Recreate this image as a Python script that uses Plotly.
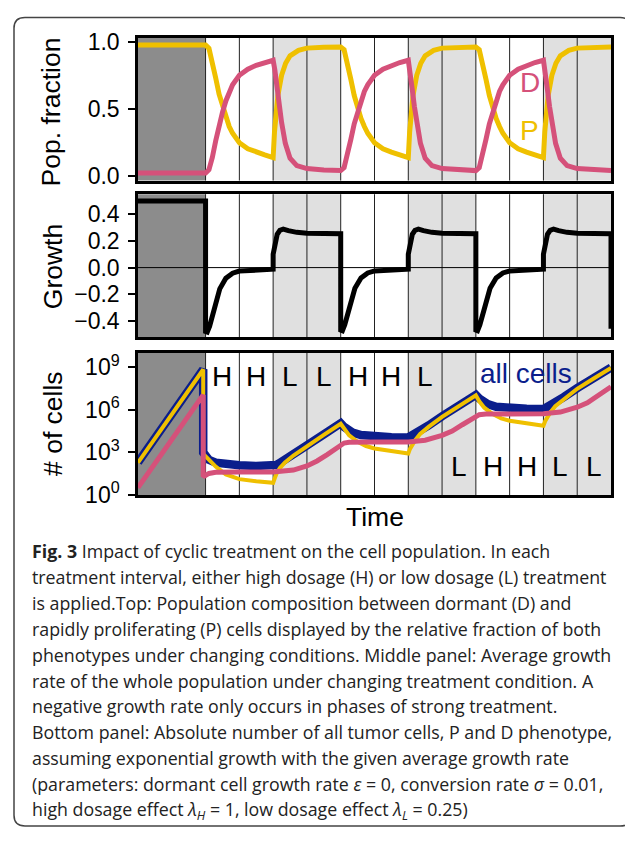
import plotly.graph_objects as go

# page body adds an 8px margin, so the figure is drawn 8px in from the corner
OFF = 8
W, H = 633 - OFF, 841 - OFF
YELLOW = "#EFC000"
PINK = "#D5517A"
NAVY = "#0B1E8C"
DARK = "#8C8C8C"
LIGHT = "#E0E0E0"
FONT = "Liberation Sans, Arial, sans-serif"
CAP_FONT = "Open Sans, sans-serif"

# ---------------- data ----------------
# time in treatment-interval units: 0-2 untreated, then 12 treatment intervals
treatment = ["H", "H", "L", "L", "H", "H", "L", "L", "H", "H", "L", "L"]
label_row = ["top"] * 7 + ["bottom"] * 5

# top panel: population fractions
P_t = [0.0, 2.0,
       2.1, 2.2, 2.3, 2.4, 2.5, 2.6, 2.7, 2.8, 3.0, 3.25, 3.5, 3.75, 4.0,
       4.04, 4.14, 4.25, 4.37, 4.5, 4.75, 5.0, 5.5, 6.0,
       6.1, 6.2, 6.3, 6.4, 6.5, 6.6, 6.7, 6.8, 7.0, 7.25, 7.5, 7.75, 8.0,
       8.04, 8.14, 8.25, 8.37, 8.5, 8.75, 9.0, 9.5, 10.0,
       10.1, 10.2, 10.3, 10.4, 10.5, 10.6, 10.7, 10.8, 11.0, 11.25, 11.5, 11.75, 12.0,
       12.04, 12.14, 12.25, 12.37, 12.5, 12.75, 13.0, 13.5, 14.0]
P_frac = [0.975, 0.975,
          0.95, 0.85, 0.73, 0.61, 0.52, 0.43, 0.37, 0.32, 0.25, 0.205, 0.18, 0.16, 0.14,
          0.33, 0.60, 0.75, 0.84, 0.895, 0.935, 0.952, 0.958, 0.96,
          0.94, 0.84, 0.72, 0.60, 0.51, 0.43, 0.37, 0.32, 0.25, 0.205, 0.18, 0.16, 0.14,
          0.33, 0.60, 0.75, 0.84, 0.895, 0.935, 0.952, 0.958, 0.96,
          0.94, 0.84, 0.72, 0.60, 0.51, 0.43, 0.37, 0.32, 0.25, 0.205, 0.18, 0.16, 0.14,
          0.33, 0.60, 0.75, 0.84, 0.895, 0.935, 0.952, 0.958, 0.96]

D_t = [0.0, 2.0,
       2.1, 2.2, 2.3, 2.4, 2.5, 2.6, 2.7, 2.8, 3.0, 3.25, 3.5, 3.75, 4.0,
       4.05, 4.12, 4.18, 4.25, 4.36, 4.5, 4.7, 5.0, 5.5, 6.0,
       6.1, 6.2, 6.3, 6.4, 6.5, 6.6, 6.7, 6.8, 7.0, 7.25, 7.5, 7.75, 8.0,
       8.05, 8.12, 8.18, 8.25, 8.36, 8.5, 8.7, 9.0, 9.5, 10.0,
       10.1, 10.2, 10.3, 10.4, 10.5, 10.6, 10.7, 10.8, 11.0, 11.25, 11.5, 11.75, 12.0,
       12.05, 12.12, 12.18, 12.25, 12.36, 12.5, 12.7, 13.0, 13.5, 14.0]
D_frac = [0.025, 0.025,
          0.05, 0.14, 0.265, 0.385, 0.475, 0.56, 0.625, 0.68, 0.75, 0.795, 0.825, 0.845, 0.862,
          0.79, 0.64, 0.52, 0.40, 0.245, 0.135, 0.08, 0.058, 0.047, 0.043,
          0.065, 0.155, 0.275, 0.39, 0.48, 0.565, 0.63, 0.68, 0.75, 0.795, 0.825, 0.845, 0.862,
          0.79, 0.64, 0.52, 0.40, 0.245, 0.135, 0.08, 0.058, 0.047, 0.043,
          0.065, 0.155, 0.275, 0.39, 0.48, 0.565, 0.63, 0.68, 0.75, 0.795, 0.825, 0.845, 0.862,
          0.79, 0.64, 0.52, 0.40, 0.245, 0.135, 0.08, 0.058, 0.047, 0.043]

# middle panel: average growth rate
G_t = [0.0, 2.0, 2.0, 2.05, 2.12, 2.2, 2.3, 2.42, 2.6, 2.8, 3.0, 3.5, 4.0,
       4.0, 4.05, 4.12, 4.2, 4.3, 4.45, 4.7, 5.0, 5.5, 6.0,
       6.0, 6.05, 6.12, 6.2, 6.3, 6.42, 6.6, 6.8, 7.0, 7.5, 8.0,
       8.0, 8.05, 8.12, 8.2, 8.3, 8.45, 8.7, 9.0, 9.5, 10.0,
       10.0, 10.05, 10.12, 10.2, 10.3, 10.42, 10.6, 10.8, 11.0, 11.5, 12.0,
       12.0, 12.05, 12.12, 12.2, 12.3, 12.45, 12.7, 13.0, 13.5, 14.0, 14.0]
growth = [0.5, 0.5, -0.48, -0.485, -0.44, -0.36, -0.25, -0.16, -0.08, -0.042, -0.026, -0.016, -0.012,
          0.10, 0.17, 0.25, 0.28, 0.29, 0.278, 0.265, 0.259, 0.256, 0.255,
          -0.47, -0.475, -0.43, -0.35, -0.245, -0.155, -0.078, -0.04, -0.025, -0.016, -0.012,
          0.10, 0.17, 0.25, 0.28, 0.29, 0.278, 0.265, 0.259, 0.256, 0.255,
          -0.47, -0.475, -0.43, -0.35, -0.245, -0.155, -0.078, -0.04, -0.025, -0.016, -0.012,
          0.10, 0.17, 0.25, 0.28, 0.29, 0.278, 0.265, 0.259, 0.256, 0.255, -0.46]

# bottom panel: cell numbers (log10 of count)
all_t = [0.0, 1.93, 1.93, 2.0, 2.1, 2.3, 2.6, 3.0, 3.5, 4.0,
         4.1, 4.2, 4.35, 4.6, 5.0, 5.5, 6.0,
         6.1, 6.2, 6.35, 6.6, 7.0, 7.5, 8.0,
         8.1, 8.2, 8.35, 8.6, 9.0, 9.5, 10.0,
         10.1, 10.2, 10.35, 10.6, 11.0, 11.5, 12.0,
         12.1, 12.2, 12.35, 12.6, 13.0, 13.5, 14.0]
all_log = [2.3, 8.85, 3.0, 2.72, 2.48, 2.28, 2.17, 2.1, 2.04, 2.0,
           2.12, 2.27, 2.48, 2.85, 3.5, 4.27, 5.05,
           4.8, 4.6, 4.4, 4.22, 4.12, 4.07, 4.05,
           4.17, 4.32, 4.53, 4.9, 5.55, 6.3, 7.05,
           6.8, 6.6, 6.4, 6.22, 6.12, 6.07, 6.05,
           6.17, 6.32, 6.53, 6.9, 7.53, 8.25, 8.98]

Pn_t = [0.0, 1.93, 1.93, 2.06, 2.3, 2.6, 3.0, 3.5, 4.0,
        4.05, 4.1, 4.2, 4.35, 4.6, 5.0, 5.5, 6.0,
        6.1, 6.25, 6.5, 6.75, 7.0, 7.5, 8.0,
        8.05, 8.1, 8.2, 8.35, 8.6, 9.0, 9.5, 10.0,
        10.1, 10.25, 10.5, 10.75, 11.0, 11.5, 12.0,
        12.05, 12.1, 12.2, 12.35, 12.6, 13.0, 13.5, 14.0]
Pn_log = [2.28, 8.84, 2.9, 2.6, 2.0, 1.45, 1.12, 0.97, 0.86,
          1.2, 1.5, 1.9, 2.3, 2.78, 3.45, 4.23, 5.02,
          4.65, 4.2, 3.75, 3.45, 3.28, 3.07, 2.92,
          3.25, 3.5, 3.85, 4.3, 4.8, 5.5, 6.27, 7.02,
          6.6, 6.15, 5.7, 5.4, 5.23, 5.02, 4.88,
          5.2, 5.45, 5.8, 6.25, 6.75, 7.48, 8.22, 8.95]

Dn_t = [0.0, 1.93, 1.93, 2.0, 2.1, 2.3, 2.6, 3.0, 4.0,
        4.3, 4.6, 5.0, 5.3, 5.6, 6.0,
        6.1, 6.25, 6.5, 7.0, 8.0,
        8.5, 9.0, 9.3, 9.6, 10.0,
        10.1, 10.3, 11.0, 12.0,
        12.5, 13.0, 13.3, 13.6, 14.0]
Dn_log = [0.52, 7.05, 1.28, 1.4, 1.52, 1.6, 1.62, 1.62, 1.62,
          1.66, 1.76, 2.05, 2.4, 2.85, 3.58,
          3.66, 3.71, 3.73, 3.74, 3.74,
          3.86, 4.2, 4.5, 4.95, 5.6,
          5.66, 5.7, 5.72, 5.72,
          5.84, 6.18, 6.5, 6.95, 7.62]

count_ticks = [0, 3, 6, 9]

caption_lines = [
    "<b>Fig. 3</b> Impact of cyclic treatment on the cell population. In each",
    "treatment interval, either high dosage (H) or low dosage (L) treatment",
    "is applied.Top: Population composition between dormant (D) and",
    "rapidly proliferating (P) cells displayed by the relative fraction of both",
    "phenotypes under changing conditions. Middle panel: Average growth",
    "rate of the whole population under changing treatment condition. A",
    "negative growth rate only occurs in phases of strong treatment.",
    "Bottom panel: Absolute number of all tumor cells, P and D phenotype,",
    "assuming exponential growth with the given average growth rate",
    "(parameters: dormant cell growth rate <i>ε</i> = 0, conversion rate <i>σ</i> = 0.01,",
    "high dosage effect <i>λ<sub>H</sub></i> = 1, low dosage effect <i>λ<sub>L</sub></i> = 0.25)",
]

# ---------------- figure ----------------
def px_x(p):
    return (p - OFF) / W

def px_y(p):
    return 1 - (p - OFF) / H

fig = go.Figure()

fig.add_trace(go.Scatter(x=P_t, y=P_frac, mode="lines", line=dict(color=YELLOW, width=5),
                         xaxis="x", yaxis="y", name="P"))
fig.add_trace(go.Scatter(x=D_t, y=D_frac, mode="lines", line=dict(color=PINK, width=5),
                         xaxis="x", yaxis="y", name="D"))
fig.add_trace(go.Scatter(x=G_t, y=growth, mode="lines", line=dict(color="black", width=5),
                         xaxis="x2", yaxis="y2", name="growth"))
fig.add_trace(go.Scatter(x=all_t, y=[10 ** v for v in all_log], mode="lines",
                         line=dict(color=NAVY, width=8.5), xaxis="x3", yaxis="y3", name="all cells"))
fig.add_trace(go.Scatter(x=Pn_t, y=[10 ** v for v in Pn_log], mode="lines",
                         line=dict(color=YELLOW, width=4), xaxis="x3", yaxis="y3", name="P cells"))
fig.add_trace(go.Scatter(x=Dn_t, y=[10 ** v for v in Dn_log], mode="lines",
                         line=dict(color=PINK, width=5), xaxis="x3", yaxis="y3", name="D cells"))

xdom = [px_x(138), px_x(611)]
ydoms = [[px_y(176), px_y(29.3)], [px_y(336.7), px_y(190)], [px_y(499), px_y(352.7)]]

frame = dict(showline=True, mirror=True, linecolor="black", linewidth=2.5,
             showgrid=False, zeroline=False)
for suffix in ["", "2", "3"]:
    fig.update_layout(**{
        "xaxis" + suffix: dict(domain=xdom, range=[0, 14], anchor="y" + suffix,
                               showticklabels=False, ticks="", **frame),
    })

ytick = dict(ticks="outside", ticklen=7, tickwidth=1.5, tickcolor="black",
             tickfont=dict(family=FONT, size=23, color="black"), ticklabelstandoff=4)
fig.update_layout(
    yaxis=dict(domain=ydoms[0], range=[-0.031, 1.029], anchor="x",
               tickvals=[0, 0.5, 1], ticktext=["0.0", "0.5", "1.0"], **ytick, **frame),
    yaxis2=dict(domain=ydoms[1], range=[-0.522, 0.552], anchor="x2",
                tickvals=[-0.4, -0.2, 0, 0.2, 0.4], tickformat=".1f", **ytick, **frame),
    yaxis3=dict(domain=ydoms[2], type="log", range=[0, 10.03], anchor="x3",
                tickvals=[10 ** e for e in count_ticks],
                ticktext=["10<sup>%d</sup>" % e for e in count_ticks], **ytick, **frame),
)

shapes = []
for xa, ya in [("x", "y"), ("x2", "y2"), ("x3", "y3")]:
    shapes.append(dict(type="rect", xref=xa, yref=ya + " domain", x0=0, x1=2, y0=0, y1=1,
                       fillcolor=DARK, line=dict(width=0), layer="below"))
    for i, tr in enumerate(treatment):
        if tr == "L":
            shapes.append(dict(type="rect", xref=xa, yref=ya + " domain", x0=2 + i, x1=3 + i,
                               y0=0, y1=1, fillcolor=LIGHT, line=dict(width=0), layer="below"))
    for i in range(len(treatment)):
        shapes.append(dict(type="line", xref=xa, yref=ya + " domain", x0=2 + i, x1=2 + i,
                           y0=0, y1=1, line=dict(color="#222222", width=1), layer="below"))
shapes.append(dict(type="line", xref="x2 domain", yref="y2", x0=0, x1=1, y0=0, y1=0,
                   line=dict(color="black", width=1), layer="below"))

# rounded border around whole figure
L_, T_, R_, B_, r = 14, 8.5, 631, 839, 11
path = (f"M {px_x(L_ + r)},{px_y(T_)} L {px_x(R_ - r)},{px_y(T_)} "
        f"Q {px_x(R_)},{px_y(T_)} {px_x(R_)},{px_y(T_ + r)} L {px_x(R_)},{px_y(B_ - r)} "
        f"Q {px_x(R_)},{px_y(B_)} {px_x(R_ - r)},{px_y(B_)} L {px_x(L_ + r)},{px_y(B_)} "
        f"Q {px_x(L_)},{px_y(B_)} {px_x(L_)},{px_y(B_ - r)} L {px_x(L_)},{px_y(T_ + r)} "
        f"Q {px_x(L_)},{px_y(T_)} {px_x(L_ + r)},{px_y(T_)} Z")
shapes.append(dict(type="path", xref="paper", yref="paper", path=path,
                   line=dict(color="#444444", width=1.5)))

ann = []
title_font = dict(family=FONT, size=26.5, color="black")
ann.append(dict(text="Pop. fraction", x=px_x(51), y=px_y(106), xref="paper", yref="paper",
                textangle=-90, showarrow=False, font=title_font, xanchor="center", yanchor="middle"))
ann.append(dict(text="Growth", x=px_x(53), y=px_y(265), xref="paper", yref="paper",
                textangle=-90, showarrow=False, font=title_font, xanchor="center", yanchor="middle"))
ann.append(dict(text="# of cells", x=px_x(53), y=px_y(426), xref="paper", yref="paper",
                textangle=-90, showarrow=False, font=title_font, xanchor="center", yanchor="middle"))
ann.append(dict(text="Time", x=px_x(374.5), y=px_y(521.5), xref="paper", yref="paper",
                showarrow=False, font=title_font, xanchor="center", yanchor="middle"))

for i, (tr, row) in enumerate(zip(treatment, label_row)):
    ann.append(dict(text=tr, x=2.5 + i, xref="x3", y=0.83 if row == "top" else 0.2,
                    yref="y3 domain", showarrow=False,
                    font=dict(family=FONT, size=28, color="black"),
                    xanchor="center", yanchor="middle"))
ann.append(dict(text="all cells", x=11.48, xref="x3", y=0.85, yref="y3 domain",
                showarrow=False, font=dict(family=FONT, size=28, color=NAVY),
                xanchor="center", yanchor="middle"))
ann.append(dict(text="D", x=11.6, xref="x", y=0.70, yref="y", showarrow=False,
                font=dict(family=FONT, size=28, color=PINK), xanchor="center", yanchor="middle"))
ann.append(dict(text="P", x=11.58, xref="x", y=0.34, yref="y", showarrow=False,
                font=dict(family=FONT, size=28, color=YELLOW), xanchor="center", yanchor="middle"))

cap_y0, cap_dy = 556, 26.7
for k, line in enumerate(caption_lines):
    ann.append(dict(text=line, x=px_x(30), y=px_y(cap_y0 + k * cap_dy), xref="paper", yref="paper",
                    showarrow=False, xanchor="left", yanchor="middle",
                    font=dict(family=CAP_FONT, size=17.8, color="#222222")))

fig.update_layout(
    width=W, height=H,
    margin=dict(l=0, r=0, t=0, b=0),
    paper_bgcolor="white", plot_bgcolor="white",
    showlegend=False,
    shapes=shapes, annotations=ann,
)

fig.write_html("out.html")
